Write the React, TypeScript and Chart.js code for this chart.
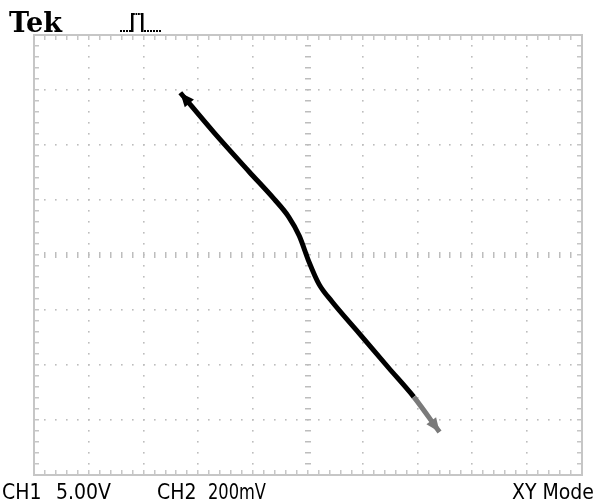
import React, { useEffect, useRef } from "react";
import { Chart, registerables } from "chart.js";

Chart.register(...registerables);

// XY trace (CH1 on X, CH2 on Y), in screen divisions
const traceX = [-2.33, -1.71, -1.07, -0.62, -0.35, -0.16, 0.02, 0.2, 0.44, 0.93, 1.47, 1.93, 2.4];
const traceY = [2.95, 2.22, 1.51, 1.02, 0.69, 0.35, -0.13, -0.53, -0.85, -1.42, -2.05, -2.58, -3.22];
const grayFromX = 1.93;

// graticule: 10 x 8 divisions, 5 minor ticks per division
const xRange = [-5, 5];
const yRange = [-4, 4];
const minorPerDiv = 5;

const labelTek = "Tek";
const labelCh1 = "CH1";
const labelCh1Scale = "5.00V";
const labelCh2 = "CH2";
const labelCh2Scale = "200mV";
const labelMode = "XY Mode";

const gridColor = "#bdbdbd";

const graticulePlugin = {
  id: "graticule",
  beforeDatasetsDraw(chart: any) {
    const { ctx, scales } = chart;
    const xs = scales.x;
    const ys = scales.y;
    const xp = (v: number) => xs.getPixelForValue(v);
    const yp = (v: number) => ys.getPixelForValue(v);
    ctx.save();
    ctx.fillStyle = gridColor;
    for (let gx = xRange[0] + 1; gx < xRange[1]; gx++) {
      if (gx === 0) continue;
      for (let k = yRange[0] * minorPerDiv; k <= yRange[1] * minorPerDiv; k++) {
        ctx.fillRect(Math.round(xp(gx)) - 1, Math.round(yp(k / minorPerDiv)) - 1, 1.6, 1.6);
      }
    }
    for (let gy = yRange[0] + 1; gy < yRange[1]; gy++) {
      if (gy === 0) continue;
      for (let k = xRange[0] * minorPerDiv; k <= xRange[1] * minorPerDiv; k++) {
        ctx.fillRect(Math.round(xp(k / minorPerDiv)) - 1, Math.round(yp(gy)) - 1, 1.6, 1.6);
      }
    }
    for (let k = yRange[0] * minorPerDiv + 1; k < yRange[1] * minorPerDiv; k++) {
      ctx.fillRect(Math.round(xp(0)) - 3, Math.round(yp(k / minorPerDiv)) - 1, 6, 1.5);
    }
    for (let k = xRange[0] * minorPerDiv + 1; k < xRange[1] * minorPerDiv; k++) {
      ctx.fillRect(Math.round(xp(k / minorPerDiv)) - 1, Math.round(yp(0)) - 3, 1.5, 6);
    }
    const l = xp(xRange[0]), r = xp(xRange[1]), t = yp(yRange[1]), b = yp(yRange[0]);
    ctx.strokeStyle = "#c6c6c6";
    ctx.lineWidth = 2;
    ctx.strokeRect(l, t, r - l, b - t);
    ctx.fillStyle = "#c6c6c6";
    for (let k = xRange[0] * minorPerDiv + 1; k < xRange[1] * minorPerDiv; k++) {
      const px = Math.round(xp(k / minorPerDiv)) - 1;
      ctx.fillRect(px, t, 1.5, 5);
      ctx.fillRect(px, b - 5, 1.5, 5);
    }
    for (let k = yRange[0] * minorPerDiv + 1; k < yRange[1] * minorPerDiv; k++) {
      const py = Math.round(yp(k / minorPerDiv)) - 1;
      ctx.fillRect(l, py, 5, 1.5);
      ctx.fillRect(r - 5, py, 5, 1.5);
    }
    // trigger pulse icon above the graticule
    const ix = l + 86;
    const iy = t - 3;
    ctx.fillStyle = "#000";
    for (let i = 0; i < 4; i++) ctx.fillRect(ix + i * 3, iy - 2, 2, 2);
    ctx.fillRect(ix + 11, iy - 19, 2.5, 19);
    for (let i = 0; i < 4; i++) ctx.fillRect(ix + 13 + i * 2.5, iy - 19, 1.8, 2);
    ctx.fillRect(ix + 21, iy - 19, 2.5, 19);
    for (let i = 0; i < 6; i++) ctx.fillRect(ix + 24 + i * 3, iy - 2, 2, 2);
    ctx.restore();
  },
};

function drawHead(ctx: any, tip: any, from: any, color: string) {
  const dx = tip.x - from.x;
  const dy = tip.y - from.y;
  const len = Math.hypot(dx, dy) || 1;
  const ux = dx / len, uy = dy / len;
  const L = 14, W = 6;
  const bx = tip.x - ux * L, by = tip.y - uy * L;
  ctx.beginPath();
  ctx.moveTo(tip.x, tip.y);
  ctx.lineTo(bx - uy * W, by + ux * W);
  ctx.lineTo(bx + uy * W, by - ux * W);
  ctx.closePath();
  ctx.fillStyle = color;
  ctx.fill();
}

const arrowPlugin = {
  id: "arrows",
  afterDatasetsDraw(chart: any) {
    const pts = chart.getDatasetMeta(0).data;
    if (!pts || pts.length < 2) return;
    const ctx = chart.ctx;
    ctx.save();
    drawHead(ctx, pts[0], pts[1], "#000");
    drawHead(ctx, pts[pts.length - 1], pts[pts.length - 2], "#7a7a7a");
    ctx.restore();
  },
};

export default function App() {
  const ref = useRef<HTMLCanvasElement>(null);
  useEffect(() => {
    if (!ref.current) return;
    const data = traceX.map((x, i) => ({ x, y: traceY[i] }));
    const chart = new Chart(ref.current, {
      type: "scatter",
      data: {
        datasets: [
          {
            data,
            showLine: true,
            borderColor: "#000",
            borderWidth: 5,
            pointRadius: 0,
            cubicInterpolationMode: "monotone",
            segment: {
              borderColor: (c: any) => (traceX[c.p0DataIndex] >= grayFromX ? "#7a7a7a" : "#000"),
            },
          } as any,
        ],
      },
      options: {
        responsive: false,
        animation: false,
        layout: { padding: { left: 34, right: 14, top: 35, bottom: 26 } },
        plugins: { legend: { display: false }, tooltip: { enabled: false } },
        scales: {
          x: { type: "linear", min: xRange[0], max: xRange[1], display: false },
          y: { type: "linear", min: yRange[0], max: yRange[1], display: false },
        },
      },
      plugins: [graticulePlugin, arrowPlugin],
    });
    return () => chart.destroy();
  }, []);

  const narrow = '"Liberation Sans Narrow", "DejaVu Sans Condensed", "Roboto Condensed", "Liberation Sans", sans-serif';
  const bottom = (left: number, text: string, sx = 1): any => (
    <div
      style={{
        position: "absolute",
        left,
        top: 482,
        font: `21px ${narrow}`,
        lineHeight: "21px",
        whiteSpace: "pre",
        color: "#000",
        transform: `scaleX(${sx})`,
        transformOrigin: "left",
      }}
    >
      {text}
    </div>
  );
  return (
    <div style={{ position: "fixed", left: 0, top: 0, width: 596, height: 501, background: "#fff", overflow: "hidden" }}>
      <canvas ref={ref} width={596} height={501} style={{ position: "absolute", left: 0, top: 0 }} />
      <div style={{ position: "absolute", left: 9, top: 9, font: 'bold 27px "DejaVu Serif", "Liberation Serif", serif', lineHeight: "27px", color: "#000" }}>
        {labelTek}
      </div>
      {bottom(2, labelCh1)}
      {bottom(56, labelCh1Scale)}
      {bottom(157, labelCh2)}
      {bottom(208, labelCh2Scale, 0.86)}
      <div style={{ position: "absolute", right: 2, top: 482, font: `21px ${narrow}`, lineHeight: "21px", whiteSpace: "pre", color: "#000" }}>
        {labelMode}
      </div>
    </div>
  );
}
